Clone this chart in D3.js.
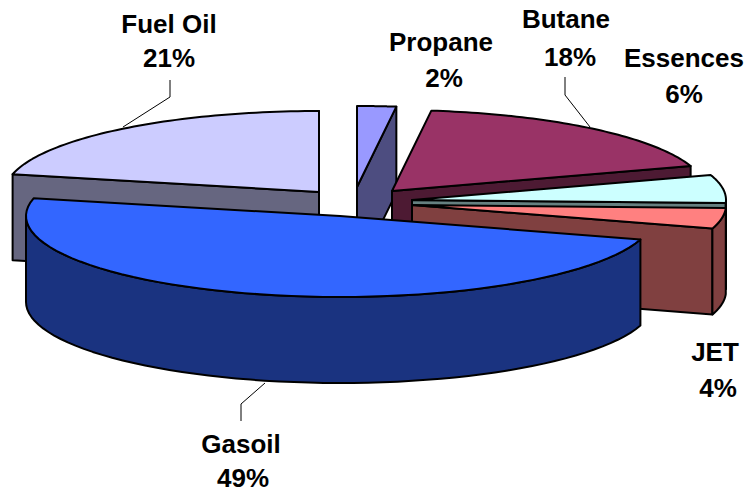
<!DOCTYPE html>
<html>
<head>
<meta charset="utf-8">
<script src="https://cdnjs.cloudflare.com/ajax/libs/d3/7.8.5/d3.min.js"></script>
<style>
html,body{margin:0;padding:0;background:#fff}
svg{display:block}
text{font-family:"Liberation Sans",Arial,sans-serif;font-weight:700;font-size:26px;fill:#000;text-anchor:middle}
</style>
</head>
<body>
<svg id="c" width="747" height="493"></svg>
<script>
// Data (clockwise from 12 o'clock)
const categories = ["Propane","Butane","Essences","JET","Gasoil","Fuel Oil"];
const shares = [0.02,0.18,0.056,0.041,0.4881,0.2149];
const topColors = ["#9999FF","#993366","#CCFFFF","#FF8080","#3366FF","#CCCCFF"];
const wallColors = ["#4D4D80","#4D1A33","#668080","#804040","#1A3380","#666680"];

// Layout
const apexX = [357,392,412,412,340,319];
const apexY = [187,191,200,205,216,192];
const radiusX = 314, radiusY = 81, depth = 86;
const labelX = [[441,444],[566,570],[684,684],[715,718],[241,243],[169,169]];
const labelY = [[42,78],[19,57],[58,94],[352,388],[444,478],[24,58]];
const leaders = [null,[[565,77],[565,95],[590,127]],null,null,[[241,421],[241,404],[265,383]],[[170,80],[170,97],[123,127]]];
const paintOrder = [5,0,1,2,3,4];

const svg = d3.select("#c");
const pie = d3.pie().sort(null).value(d=>d).startAngle(0).endAngle(2*Math.PI);
const arcs = pie(shares);
const pct = d3.format(".0%");
const line = d3.line();
const closed = d3.line().curve(d3.curveLinearClosed);

function rim(i,a){ // projected point on the top rim at clock angle a
  const sx = d3.scaleLinear().domain([-1,1]).range([apexX[i]-radiusX,apexX[i]+radiusX]);
  const sy = d3.scaleLinear().domain([-1,1]).range([apexY[i]-radiusY,apexY[i]+radiusY]);
  return [sx(Math.sin(a)),sy(-Math.cos(a))];
}
const down = p=>[p[0],p[1]+depth];
function poly(pts,fill){
  svg.append("path").attr("d",closed(pts)).attr("fill",fill)
    .attr("stroke","#000").attr("stroke-width",2).attr("stroke-linejoin","round");
}
function rimPts(i,a0,a1){
  return d3.range(0,61).map(k=>rim(i,a0+(a1-a0)*k/60));
}

// Leader lines sit behind the pie
leaders.forEach(l=>{ if(l) svg.append("path").attr("d",line(l)).attr("fill","none").attr("stroke","#000").attr("stroke-width",1); });

paintOrder.forEach(i=>{
  const a0=arcs[i].startAngle, a1=arcs[i].endAngle, ctr=[apexX[i],apexY[i]];
  // radial walls facing the viewer
  if(Math.sin(a1)>0) poly([ctr,rim(i,a1),down(rim(i,a1)),down(ctr)],wallColors[i]);
  if(Math.sin(a0)<0) poly([ctr,rim(i,a0),down(rim(i,a0)),down(ctr)],wallColors[i]);
  // outer wall on the front half
  const f0=Math.max(a0,Math.PI/2), f1=Math.min(a1,3*Math.PI/2);
  if(f1>f0){
    const r=rimPts(i,f0,f1);
    poly(r.concat(r.map(down).reverse()),wallColors[i]);
  }
  // top
  poly([ctr].concat(rimPts(i,a0,a1)),topColors[i]);
});

categories.forEach((c,i)=>{
  svg.append("text").attr("x",labelX[i][0]).attr("y",labelY[i][0]+9).text(c);
  svg.append("text").attr("x",labelX[i][1]).attr("y",labelY[i][1]+9).text(pct(shares[i]));
});
</script>
</body>
</html>
